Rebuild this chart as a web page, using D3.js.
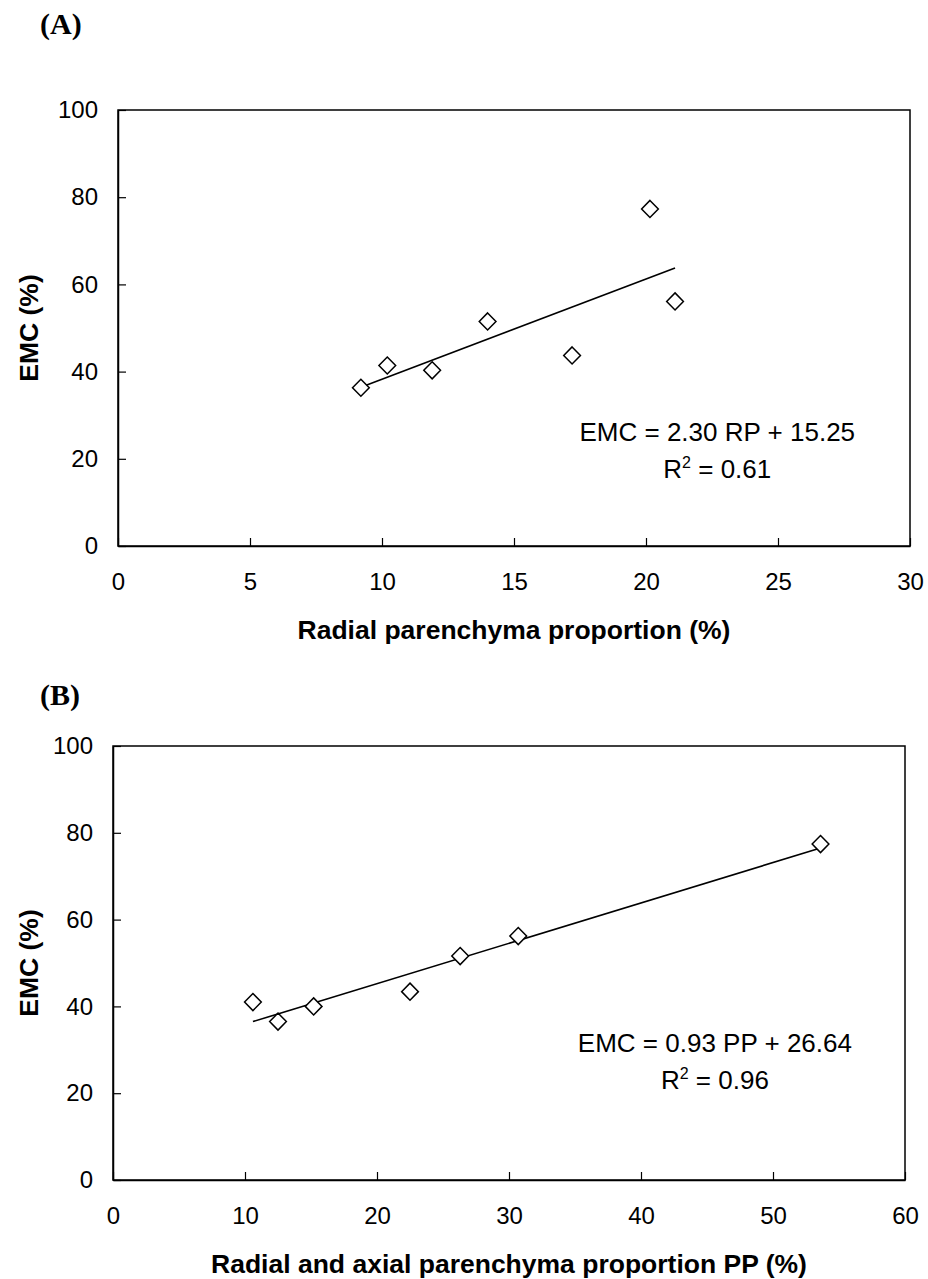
<!DOCTYPE html>
<html>
<head>
<meta charset="utf-8">
<script src="https://cdn.jsdelivr.net/npm/d3@7"></script>
<style>
  body { margin: 0; background: #fff; }
  text { font-family: "Liberation Sans", Arial, sans-serif; fill: #000; }
  .tick text { font-size: 24px; }
  .axis-title { font-size: 26.5px; font-weight: bold; }
  .panel-tag { font-family: "Liberation Serif", "Times New Roman", serif; font-size: 30px; font-weight: bold; }
  .eq { font-size: 26px; }
</style>
</head>
<body>
<svg id="chart" width="928" height="1279"></svg>
<script>
// panel A: radial parenchyma proportion vs EMC
var rpA  = [9.2, 10.2, 11.9, 14.0, 17.2, 20.15, 21.1];
var emcA = [36.3, 41.4, 40.3, 51.5, 43.7, 77.3, 56.1];
var fitA = [2.30, 15.25];
var xTicksA = [0, 5, 10, 15, 20, 25, 30];

// panel B: radial + axial parenchyma proportion vs EMC
var ppB  = [10.6, 12.5, 15.2, 22.5, 26.3, 30.7, 53.6];
var emcB = [41.0, 36.5, 40.0, 43.4, 51.6, 56.2, 77.4];
var fitB = [0.93, 26.64];
var xTicksB = [0, 10, 20, 30, 40, 50, 60];

var yTicks = [0, 20, 40, 60, 80, 100];

var svg = d3.select("#chart");

// open diamond marker
var diamond = {
    draw: function(ctx, size) {
        var w = Math.sqrt(size) / 2, h = w * 1.02;
        ctx.moveTo(0, -h);
        ctx.lineTo(w, 0);
        ctx.lineTo(0, h);
        ctx.lineTo(-w, 0);
        ctx.closePath();
    }
};

function drawPanel(o) {
    var x = d3.scaleLinear().domain([o.xTicks[0], o.xTicks[o.xTicks.length - 1]]).range([o.left, o.right]);
    var y = d3.scaleLinear().domain([0, 100]).range([o.bottom, o.top]);
    var g = svg.append("g");

    g.append("rect")
        .attr("x", o.left).attr("y", o.top)
        .attr("width", o.right - o.left).attr("height", o.bottom - o.top)
        .attr("fill", "none").attr("stroke", "#000").attr("stroke-width", 1.5);

    var xAxis = g.append("g")
        .attr("transform", "translate(0," + o.bottom + ")")
        .call(d3.axisBottom(x).tickValues(o.xTicks).tickSizeInner(-8).tickSizeOuter(0).tickPadding(27));
    var yAxis = g.append("g")
        .attr("transform", "translate(" + o.left + ",0)")
        .call(d3.axisLeft(y).tickValues(yTicks).tickSizeInner(-8).tickSizeOuter(0).tickPadding(20));
    [xAxis, yAxis].forEach(function(a) {
        a.select(".domain").attr("stroke-width", 1.5);
        a.selectAll(".tick line").attr("stroke-width", 1.2);
        a.selectAll(".tick text").attr("font-family", null).attr("font-size", null);
    });

    g.append("text").attr("class", "panel-tag")
        .attr("x", 40).attr("y", o.tagY).text(o.tag);

    g.append("text").attr("class", "axis-title")
        .attr("x", (o.left + o.right) / 2).attr("y", o.xTitleY)
        .attr("text-anchor", "middle").text(o.xTitle);
    g.append("text").attr("class", "axis-title")
        .attr("transform", "translate(38," + (o.top + o.bottom) / 2 + ") rotate(-90)")
        .attr("text-anchor", "middle").text("EMC (%)");

    // regression line over the span of the data
    var ext = d3.extent(o.xs);
    g.append("path")
        .datum(ext)
        .attr("fill", "none").attr("stroke", "#000").attr("stroke-width", 1.6)
        .attr("d", d3.line().x(function(d) { return x(d); })
                            .y(function(d) { return y(o.fit[0] * d + o.fit[1]); }));

    g.selectAll(".pt").data(o.xs).enter()
        .append("path")
        .attr("class", "pt")
        .attr("transform", function(d, i) { return "translate(" + x(d) + "," + y(o.ys[i]) + ")"; })
        .attr("d", d3.symbol().type(diamond).size(280))
        .attr("fill", "#fff").attr("stroke", "#000").attr("stroke-width", 1.5);

    var eq = g.append("g");
    eq.append("text").attr("class", "eq")
        .attr("x", x(o.eqX)).attr("y", y(o.eqY[0]))
        .attr("text-anchor", "middle").text(o.eq);
    var r2 = eq.append("text").attr("class", "eq")
        .attr("x", x(o.eqX)).attr("y", y(o.eqY[1]))
        .attr("text-anchor", "middle");
    r2.append("tspan").text("R");
    r2.append("tspan").attr("font-size", 16).attr("dy", -10).text("2");
    r2.append("tspan").attr("dy", 10).text(" = " + o.r2);
}

drawPanel({
    tag: "(A)", tagY: 34,
    left: 118, right: 910, top: 110, bottom: 546,
    xTicks: xTicksA, xs: rpA, ys: emcA, fit: fitA,
    xTitle: "Radial parenchyma proportion (%)", xTitleY: 639,
    eq: "EMC = 2.30 RP + 15.25", r2: "0.61", eqX: 22.7, eqY: [24, 15.5]
});

drawPanel({
    tag: "(B)", tagY: 705,
    left: 113, right: 905, top: 746, bottom: 1180,
    xTicks: xTicksB, xs: ppB, ys: emcB, fit: fitB,
    xTitle: "Radial and axial parenchyma proportion PP (%)", xTitleY: 1273,
    eq: "EMC = 0.93 PP + 26.64", r2: "0.96", eqX: 45.6, eqY: [29.5, 21]
});
</script>
</body>
</html>
